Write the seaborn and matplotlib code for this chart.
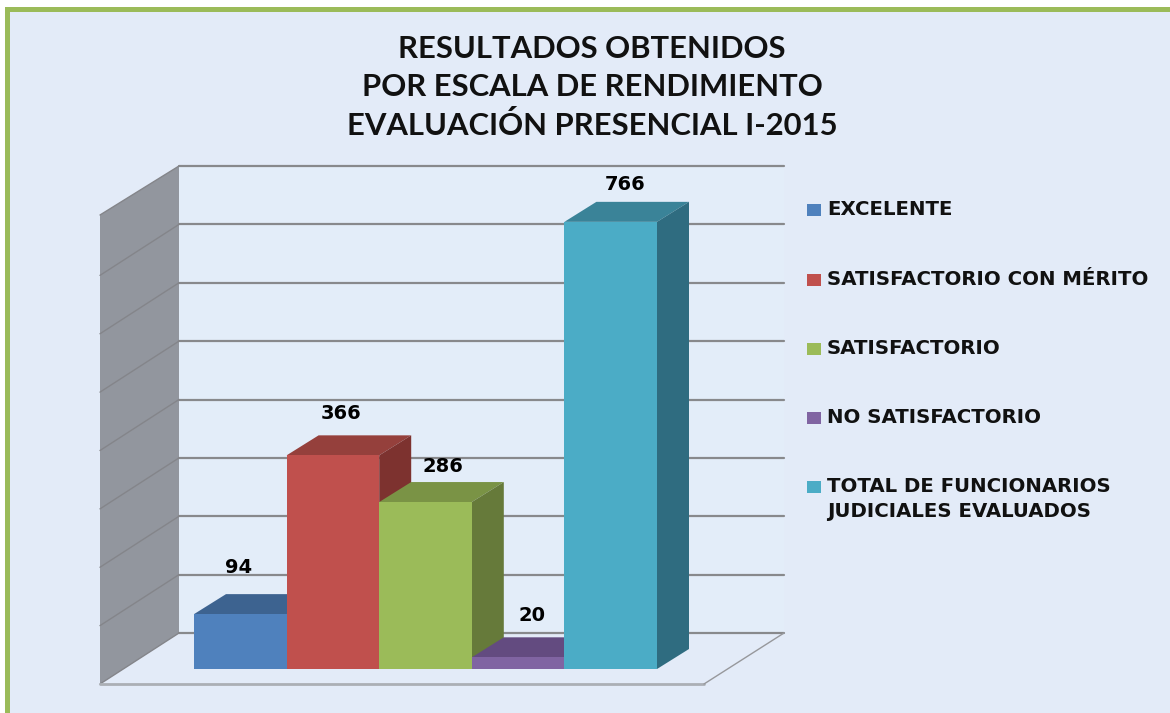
# Resultados por escala de rendimiento - fake 3D columns

import numpy as np
import pandas as pd
import seaborn as sns
import matplotlib.pyplot as plt
from matplotlib.patches import Polygon, Rectangle
from matplotlib.transforms import IdentityTransform, blended_transform_factory

categories = ['EXCELENTE', 'SATISFACTORIO CON MÉRITO', 'SATISFACTORIO',
              'NO SATISFACTORIO', 'TOTAL DE FUNCIONARIOS\nJUDICIALES EVALUADOS']
values = [94, 366, 286, 20, 766]
colors = ['#4F81BD', '#C0504D', '#9BBB59', '#8064A2', '#4BACC6']
top_colors = ['#3D6390', '#95403C', '#7A9345', '#634B80', '#3A8398']
side_colors = ['#335377', '#7D322F', '#667A3A', '#533F6B', '#2F6C80']
grid_values = [0, 100, 200, 300, 400, 500, 600, 700, 800]
title = 'RESULTADOS OBTENIDOS\nPOR ESCALA DE RENDIMIENTO\nEVALUACIÓN PRESENCIAL I-2015'

W, H = 1170, 713
BG = '#E3EBF8'
WALL = '#92969E'
GRID = '#88898C'

sns.set_theme(style='white')
plt.rcParams['font.family'] = ['Lato', 'DejaVu Sans']

fig = plt.figure(figsize=(W / 100, H / 100), dpi=100, facecolor='white')

# Slide frame, runs off the right and bottom edges
fig.patches.append(Rectangle((6.5, -20), W + 40, H - 8.5 + 20, transform=IdentityTransform(),
                             facecolor=BG, edgecolor='#9BBB59', linewidth=3.6, zorder=-5))

ax = fig.add_axes([194 / W, (H - 669) / H, 463 / W, 467 / H])
ax.patch.set_alpha(0)

df = pd.DataFrame({'cat': categories, 'val': values})
sns.barplot(data=df, x='cat', y='val', hue='cat', hue_order=categories, palette=colors,
            width=1, dodge=False, saturation=1, legend=False, ax=ax)
ax.set_xlim(-0.5, 4.5)
ax.set_ylim(0, 800)
ax.axis('off')

# y from the value scale, x in pixels
pix_y = blended_transform_factory(IdentityTransform(), ax.transData)


def wall_y(v, shift):
    return pix_y.transform((0, v))[1] + shift


# Back wall, left wall and floor
back, front = 36, -15
x_back_l, x_back_r, x_front_l, x_front_r = 179, 784, 100, 704
fig.patches.append(Rectangle((x_back_l, wall_y(0, back)), x_back_r - x_back_l,
                             wall_y(800, back) - wall_y(0, back), transform=IdentityTransform(),
                             facecolor='#E3EDF9', edgecolor='none', zorder=-4))
fig.patches.append(Polygon([(x_front_l, wall_y(0, front)), (x_back_l, wall_y(0, back)),
                            (x_back_l, wall_y(800, back)), (x_front_l, wall_y(800, front + 2))],
                           transform=IdentityTransform(), facecolor=WALL, edgecolor='none', zorder=-3))
for v in grid_values:
    fig.add_artist(plt.Line2D([x_back_l, x_back_r], [wall_y(v, back)] * 2, color=GRID, lw=1.6,
                              transform=IdentityTransform(), zorder=-2))
    fig.add_artist(plt.Line2D([x_front_l, x_back_l], [wall_y(v, front + 2 * (v == 800)), wall_y(v, back)],
                              color='#84858A', lw=1, transform=IdentityTransform(), zorder=-2))
fig.add_artist(plt.Line2D([x_front_l, x_front_r], [wall_y(0, front)] * 2, color='#ABAFB5', lw=2,
                          transform=IdentityTransform(), zorder=-2))
fig.add_artist(plt.Line2D([x_front_r, x_back_r], [wall_y(0, front), wall_y(0, back)], color='#97989C', lw=1,
                          transform=IdentityTransform(), zorder=-2))

# Extrude each bar up and to the right
dx, dy = 32, 20
for i, bar in enumerate(ax.patches):
    x0, x1 = bar.get_x(), bar.get_x() + bar.get_width()
    h = bar.get_height()
    bar.set_zorder(10 + 3 * i)
    bar.set_edgecolor('none')
    a, b = ax.transData.transform([(x0, h), (x1, h)])
    c = ax.transData.transform((x1, 0))
    ax.add_patch(Polygon([a, b, b + (dx, dy), a + (dx, dy)], transform=IdentityTransform(),
                         facecolor=top_colors[i], edgecolor='none', zorder=9 + 3 * i, clip_on=False))
    ax.add_patch(Polygon([b, c, c + (dx, dy), b + (dx, dy)], transform=IdentityTransform(),
                         facecolor=side_colors[i], edgecolor='none', zorder=9 + 3 * i, clip_on=False))

# Value labels float above the extruded top
label_dx = [-2, 8, 17, 14, 14]
label_dy = [47, 42, 36, 42, 37]
for i, v in enumerate(values):
    ax.annotate(str(v), (i, v), xytext=(label_dx[i], label_dy[i]), textcoords='offset pixels',
                ha='center', va='center', fontsize=14, fontweight='bold', color='black',
                family='DejaVu Sans', annotation_clip=False, zorder=30)

fig.suptitle(title, x=592 / W, y=1 - 35 / H, va='top', ha='center', fontsize=22.3, fontweight='bold',
             color='#111111', linespacing=1.42)

# Legend
legend_y = [210, 280, 349, 418, 487]
for name, col, y in zip(categories, colors, legend_y):
    fig.patches.append(Rectangle((807, H - y - 6), 14, 12, transform=IdentityTransform(),
                                 facecolor=col, edgecolor='none'))
    fig.text(827 / W, 1 - (y - 10) / H, name, va='top', ha='left', fontsize=14.2, fontweight='bold',
             family='DejaVu Sans', color='#111111', linespacing=1.42)

fig.savefig('out.png', dpi=100)
